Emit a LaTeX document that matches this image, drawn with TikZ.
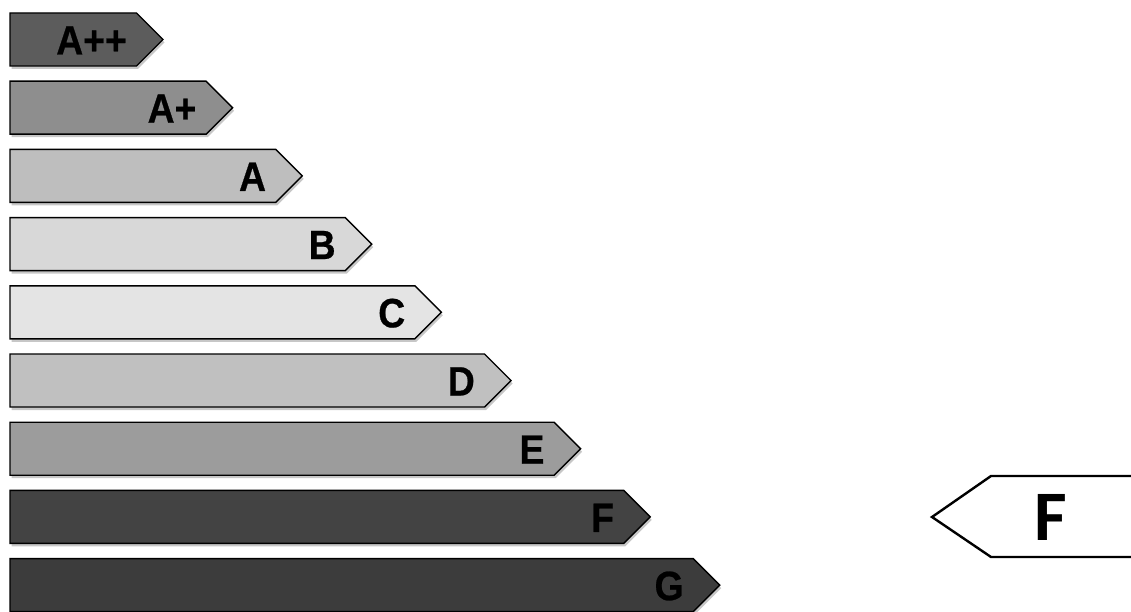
\documentclass[tikz,border=0pt]{standalone}
\usepackage{fontspec}
\usepackage{graphicx}
\setmainfont{Liberation Sans}
\newfontfamily\barfont[FakeBold=0.6]{Liberation Sans Bold}
\newfontfamily\fbold{Carlito}
\usetikzlibrary{shadows}
\definecolor{cApp}{HTML}{5C5C5C}
\definecolor{cAp}{HTML}{8E8E8E}
\definecolor{cA}{HTML}{BEBEBE}
\definecolor{cB}{HTML}{D8D8D8}
\definecolor{cC}{HTML}{E4E4E4}
\definecolor{cD}{HTML}{C0C0C0}
\definecolor{cE}{HTML}{9C9C9C}
\definecolor{cF}{HTML}{434343}
\definecolor{cG}{HTML}{3C3C3C}
\tikzset{
  barshape/.style={draw=black, line width=1.4pt, line join=miter,
    drop shadow={opacity=0.22, shadow xshift=1.5pt, shadow yshift=-3pt, fill=black}},
  barlabel/.style={anchor=base east, inner sep=0pt, font=\barfont\fontsize{41}{44}\selectfont, text=black},
  ratebox/.style={draw=black, line width=2.4pt, fill=white, line join=miter},
  ratelabel/.style={anchor=base, inner sep=0pt, font=\fbold\bfseries\fontsize{71}{75}\selectfont, text=black}
}
\begin{document}
\begin{tikzpicture}[x=1pt,y=-1pt]
\useasboundingbox (0,0) rectangle (1131,612);
\clip (0,0) rectangle (1131,612);
\foreach \i/\lab/\col/\nm in {0/A++/cApp/app,1/A+/cAp/ap,2/A/cA/a,3/B/cB/b,4/C/cC/c,5/D/cD/d,6/E/cE/e,7/F/cF/f,8/G/cG/g}{
  \pgfmathsetmacro{\t}{13+68.2*\i}
  \pgfmathsetmacro{\b}{\t+53}
  \pgfmathsetmacro{\c}{\t+26.5}
  \pgfmathsetmacro{\T}{163+69.6*\i}
  \pgfmathsetmacro{\S}{\T-26.5}
  \path[barshape, fill=\col] (10,\t) -- (\S,\t) -- (\T,\c) -- (\S,\b) -- (10,\b) -- cycle;
  \pgfmathsetmacro{\lx}{\S-9.5}
  \pgfmathsetmacro{\ly}{\c+15}
  \node[barlabel] (lab\nm) at (\lx,\ly) {\scalebox{0.91}[1]{\lab}};
}
\path[ratebox] (1140,476) -- (991,476) -- (932,517) -- (991,557) -- (1140,557) -- cycle;
\node[ratelabel] (rating) at (1051,540) {F};
\end{tikzpicture}
\end{document}
